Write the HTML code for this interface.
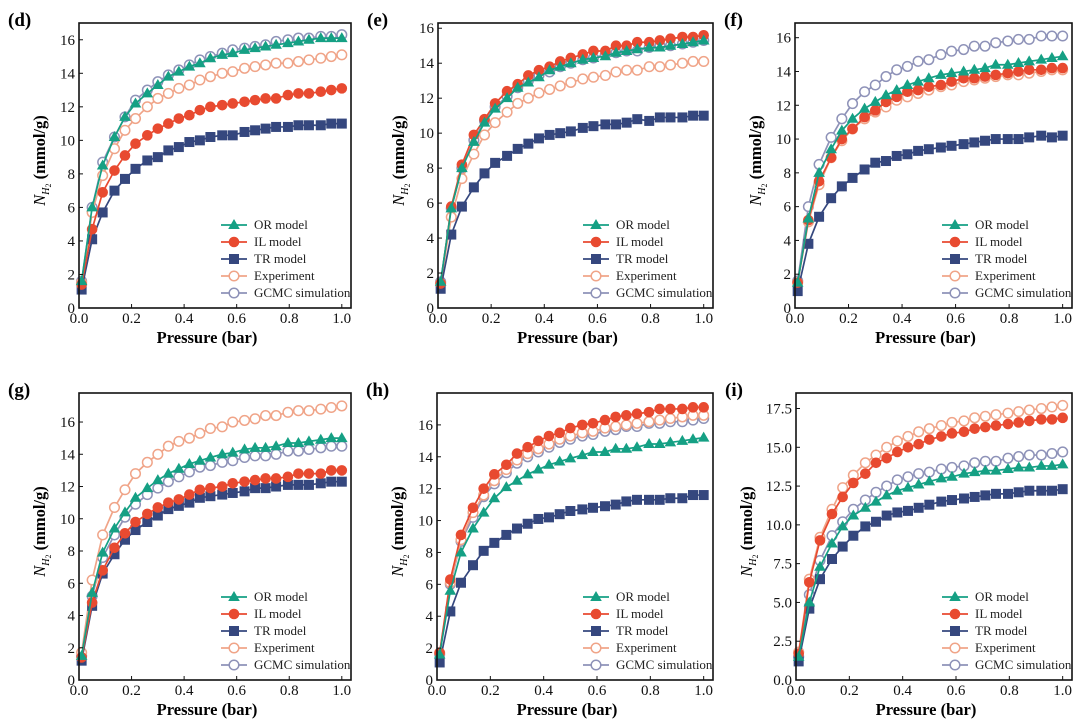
<!DOCTYPE html>
<html><head><meta charset="utf-8">
<style>
body{margin:0;background:#fff;}
svg{display:block;font-family:"Liberation Serif",serif;}
</style></head>
<body>
<svg id="chart" width="1080" height="725" viewBox="0 0 1080 725"></svg>
<script>
const pressures=[0.01,0.05,0.09,0.135,0.175,0.215,0.26,0.30,0.34,0.38,0.42,0.46,0.50,0.545,0.585,0.63,0.67,0.71,0.75,0.795,0.835,0.875,0.92,0.96,1.0];
const seriesNames=["OR model","IL model","TR model","Experiment","GCMC simulation"];
const panelLabels=["(d)","(e)","(f)","(g)","(h)","(i)"];
const dOR=[1.6,6.0,8.5,10.2,11.4,12.2,12.8,13.3,13.8,14.1,14.4,14.6,14.9,15.1,15.2,15.4,15.5,15.6,15.7,15.8,15.9,16.0,16.1,16.1,16.1];
const dIL=[1.4,4.7,6.9,8.2,9.1,9.8,10.3,10.7,11.0,11.3,11.5,11.8,12.0,12.1,12.2,12.3,12.4,12.5,12.5,12.7,12.8,12.8,12.9,13.0,13.1];
const dTR=[1.1,4.1,5.7,7.0,7.7,8.3,8.8,9.0,9.4,9.6,9.9,10.0,10.2,10.3,10.3,10.5,10.6,10.7,10.8,10.8,10.9,10.9,10.9,11.0,11.0];
const dEXP=[1.5,5.7,7.9,9.5,10.6,11.3,12.0,12.5,12.8,13.1,13.3,13.6,13.8,14.0,14.1,14.3,14.4,14.5,14.6,14.6,14.7,14.8,14.9,15.0,15.1];
const dGCMC=[1.6,6.0,8.7,10.2,11.4,12.4,13.0,13.5,13.9,14.2,14.5,14.8,15.0,15.2,15.4,15.5,15.6,15.7,15.9,16.0,16.1,16.1,16.2,16.2,16.3];
const eOR=[1.5,5.7,8.0,9.5,10.6,11.4,12.0,12.6,12.9,13.2,13.6,13.8,14.0,14.2,14.3,14.4,14.6,14.7,14.8,14.9,14.9,15.0,15.1,15.2,15.3];
const eIL=[1.4,5.8,8.2,9.9,10.8,11.7,12.4,12.8,13.3,13.6,13.8,14.1,14.3,14.5,14.7,14.7,15.0,15.0,15.2,15.2,15.3,15.4,15.5,15.5,15.6];
const eTR=[1.1,4.2,5.8,6.9,7.7,8.3,8.7,9.1,9.4,9.7,9.9,10.0,10.1,10.3,10.4,10.5,10.5,10.6,10.8,10.7,10.9,10.9,10.9,11.0,11.0];
const eEXP=[1.4,5.2,7.4,8.8,9.9,10.6,11.2,11.7,12.0,12.3,12.5,12.7,12.9,13.1,13.2,13.3,13.5,13.6,13.6,13.8,13.8,13.9,14.0,14.1,14.1];
const eGCMC=[1.5,5.7,8.0,9.6,10.7,11.5,12.1,12.6,13.0,13.3,13.5,13.8,14.0,14.2,14.3,14.5,14.6,14.7,14.7,14.9,15.0,15.0,15.1,15.2,15.3];
const fOR=[1.5,5.3,8.0,9.4,10.5,11.2,11.8,12.2,12.6,12.9,13.2,13.4,13.6,13.8,13.9,14.0,14.1,14.2,14.4,14.4,14.5,14.6,14.7,14.8,14.9];
const fIL=[1.5,5.2,7.5,8.9,10.0,10.6,11.3,11.7,12.2,12.5,12.8,12.9,13.1,13.2,13.4,13.6,13.6,13.7,13.8,13.9,14.0,14.1,14.1,14.2,14.2];
const fTR=[1.0,3.8,5.4,6.5,7.2,7.7,8.2,8.6,8.7,9.0,9.1,9.3,9.4,9.5,9.6,9.7,9.8,9.9,10.0,10.0,10.0,10.1,10.2,10.1,10.2];
const fEXP=[1.5,5.1,7.3,8.9,9.9,10.6,11.2,11.6,11.9,12.3,12.5,12.7,12.9,13.1,13.2,13.4,13.5,13.6,13.7,13.8,13.8,13.9,14.0,14.1,14.1];
const fGCMC=[1.6,6.0,8.5,10.1,11.2,12.1,12.8,13.2,13.7,14.1,14.3,14.6,14.7,15.0,15.2,15.3,15.5,15.5,15.7,15.8,15.9,15.9,16.1,16.1,16.1];
const gOR=[1.5,5.4,7.9,9.4,10.4,11.3,11.9,12.4,12.8,13.1,13.4,13.6,13.8,14.0,14.1,14.3,14.4,14.4,14.5,14.7,14.7,14.8,14.9,15.0,15.0];
const gIL=[1.4,4.8,6.8,8.2,9.1,9.8,10.3,10.7,11.0,11.2,11.5,11.8,11.9,12.0,12.2,12.3,12.4,12.5,12.5,12.6,12.8,12.8,12.8,13.0,13.0];
const gTR=[1.2,4.6,6.6,7.8,8.7,9.3,9.8,10.2,10.6,10.8,11.0,11.3,11.4,11.5,11.6,11.7,11.9,11.9,12.0,12.1,12.1,12.1,12.2,12.3,12.3];
const gEXP=[1.7,6.2,9.0,10.7,11.8,12.8,13.5,14.0,14.5,14.8,15.0,15.3,15.6,15.7,16.0,16.1,16.2,16.4,16.4,16.6,16.7,16.7,16.8,16.9,17.0];
const gGCMC=[1.5,5.2,7.6,9.0,10.1,10.9,11.5,11.9,12.3,12.6,12.9,13.2,13.3,13.5,13.6,13.8,13.9,13.9,14.0,14.2,14.2,14.3,14.4,14.5,14.5];
const hOR=[1.6,5.6,8.0,9.5,10.5,11.4,12.1,12.5,12.9,13.2,13.5,13.7,13.9,14.1,14.3,14.3,14.5,14.5,14.6,14.8,14.8,14.9,15.0,15.1,15.2];
const hIL=[1.7,6.3,9.1,10.8,12.0,12.9,13.5,14.2,14.6,15.0,15.3,15.5,15.8,16.0,16.1,16.3,16.5,16.6,16.7,16.8,17.0,17.0,17.0,17.1,17.1];
const hTR=[1.1,4.3,6.1,7.2,8.1,8.6,9.1,9.5,9.8,10.1,10.2,10.4,10.6,10.7,10.8,10.9,11.0,11.2,11.3,11.3,11.3,11.4,11.4,11.6,11.6];
const hEXP=[1.7,6.1,8.8,10.5,11.6,12.5,13.2,13.8,14.2,14.5,14.8,15.1,15.3,15.5,15.6,15.8,15.9,16.0,16.1,16.2,16.3,16.4,16.5,16.6,16.6];
const hGCMC=[1.6,6.0,8.7,10.2,11.5,12.3,13.0,13.6,14.0,14.3,14.6,14.9,15.1,15.3,15.4,15.6,15.7,15.9,15.9,16.1,16.1,16.2,16.2,16.3,16.4];
const iOR=[1.5,5.0,7.3,8.8,9.9,10.6,11.1,11.5,11.9,12.2,12.4,12.6,12.8,13.0,13.1,13.3,13.4,13.5,13.5,13.6,13.7,13.7,13.8,13.8,13.9];
const iIL=[1.7,6.3,9.0,10.7,11.8,12.7,13.3,14.0,14.3,14.7,15.0,15.2,15.5,15.7,15.9,16.0,16.2,16.3,16.4,16.5,16.6,16.7,16.8,16.8,16.9];
const iTR=[1.2,4.6,6.5,7.8,8.6,9.3,9.9,10.2,10.6,10.8,10.9,11.1,11.3,11.5,11.6,11.7,11.8,11.9,12.0,12.0,12.1,12.2,12.2,12.2,12.3];
const iEXP=[1.8,6.5,9.2,11.0,12.4,13.2,14.0,14.5,15.0,15.4,15.7,16.0,16.2,16.4,16.6,16.7,16.9,17.0,17.1,17.2,17.3,17.4,17.5,17.6,17.7];
const iGCMC=[1.5,5.5,7.7,9.3,10.2,11.0,11.6,12.1,12.5,12.9,13.1,13.3,13.4,13.6,13.7,13.8,14.0,14.1,14.1,14.3,14.4,14.5,14.5,14.6,14.7];
const xTicks=[0,0.2,0.4,0.6,0.8,1.0];
const yTicksA=[0,2,4,6,8,10,12,14,16];
const yTicksB=[0,2.5,5,7.5,10,12.5,15,17.5];
const yMaxes=[17,16.3,16.87,17.8,18.0,18.5];

const panelData=[[dOR,dIL,dTR,dEXP,dGCMC],[eOR,eIL,eTR,eEXP,eGCMC],[fOR,fIL,fTR,fEXP,fGCMC],[gOR,gIL,gTR,gEXP,gGCMC],[hOR,hIL,hTR,hEXP,hGCMC],[iOR,iIL,iTR,iEXP,iGCMC]];
const boxes=[[79,23,351,308],[438,23,713,308],[795,23,1072,308],[79,393,351,680],[437,393,713,680],[796,393,1072,680]];
const colors=["#15a084","#e84a30","#35477e","#f0a488","#8e92b8"];
const kinds=["tri","circ","sq","open","open"];
const NS="http://www.w3.org/2000/svg";
const svg=document.getElementById('chart');
function mk(tag,attrs,parent){const e=document.createElementNS(NS,tag);for(const k in attrs)e.setAttribute(k,attrs[k]);(parent||svg).appendChild(e);return e;}
function marker(g,kind,c,x,y){
  if(kind==="tri")return mk('polygon',{points:`${x},${y-6} ${x-5.8},${y+4} ${x+5.8},${y+4}`,fill:c},g);
  if(kind==="circ")return mk('circle',{cx:x,cy:y,r:5.3,fill:c},g);
  if(kind==="sq")return mk('rect',{x:x-5,y:y-5,width:10,height:10,fill:c},g);
  return mk('circle',{cx:x,cy:y,r:4.8,fill:'#fff',stroke:c,'stroke-width':1.5},g);
}
panelData.forEach((series,p)=>{
  const [L,T,R,B]=boxes[p];
  const xmax=1.035, ymax=yMaxes[p];
  const sx=v=>L+v/xmax*(R-L);
  const sy=v=>B-v/ymax*(B-T);
  const pg=mk('g',{});
  
  
  const lab=mk('text',{x:L-71,y:T+3,'font-size':19,'font-weight':'bold'},pg);
  lab.textContent=panelLabels[p];
  
  
  [4,3,2,1,0].forEach(s=>{
    const vals=series[s];
    const sg=mk('g',{},pg);
    
    
    const pts=vals.map((v,i)=>sx(pressures[i])+','+sy(v)).join(' ');
    mk('polyline',{points:pts,fill:'none',stroke:colors[s],'stroke-width':1.7},sg);
    vals.forEach((v,i)=>{const m=marker(sg,kinds[s],colors[s],sx(pressures[i]),sy(v));
      
      });
  });
  const fr=mk('rect',{x:L,y:T,width:R-L,height:B-T,fill:'none',stroke:'#111','stroke-width':1.6},pg);
  
  
  xTicks.forEach(t=>{
    const x=sx(t);
    mk('line',{x1:x,y1:B,x2:x,y2:B-4,stroke:'#111','stroke-width':1},pg);
    const tx=mk('text',{x:x,y:B+15,'font-size':15,'text-anchor':'middle',fill:'#111'},pg);
    tx.textContent=t.toFixed(1);
    
    
  });
  const yt=p===5?yTicksB:yTicksA;
  yt.forEach(t=>{
    const y=sy(t);
    mk('line',{x1:L,y1:y,x2:L+4,y2:y,stroke:'#111','stroke-width':1},pg);
    const ty=mk('text',{x:L-4,y:y+5,'font-size':15,'text-anchor':'end',fill:'#111'},pg);
    ty.textContent=p===5?t.toFixed(1):String(t);
    
    
  });
  const xl=mk('text',{x:(L+R)/2-8,y:B+35,'font-size':16.5,'font-weight':'bold','text-anchor':'middle'},pg);
  xl.textContent='Pressure (bar)';
  
  
  const cy=(T+B)/2-5, cx=L-(p===5?44:34);
  const yl=mk('text',{x:cx,y:cy,'font-size':16.5,'text-anchor':'middle',transform:`rotate(-90 ${cx} ${cy})`},pg);
  yl.innerHTML='<tspan font-style="italic">N</tspan><tspan font-style="italic" font-size="10" dy="4">H</tspan><tspan font-size="8" dy="2">2</tspan><tspan dy="-6" font-weight="bold"> (mmol/g)</tspan>';
  
  
  const lg=mk('g',{},pg);
  
  
  seriesNames.forEach((n,s)=>{
    const y=B-83+s*17, x0=R-130;
    mk('line',{x1:x0,y1:y,x2:x0+26,y2:y,stroke:colors[s],'stroke-width':1.7},lg);
    marker(lg,kinds[s],colors[s],x0+13,y);
    const t=mk('text',{x:x0+33,y:y+4,'font-size':13,fill:'#222'},lg);
    t.textContent=n;
    
    
  });
});
</script>
</body></html>
